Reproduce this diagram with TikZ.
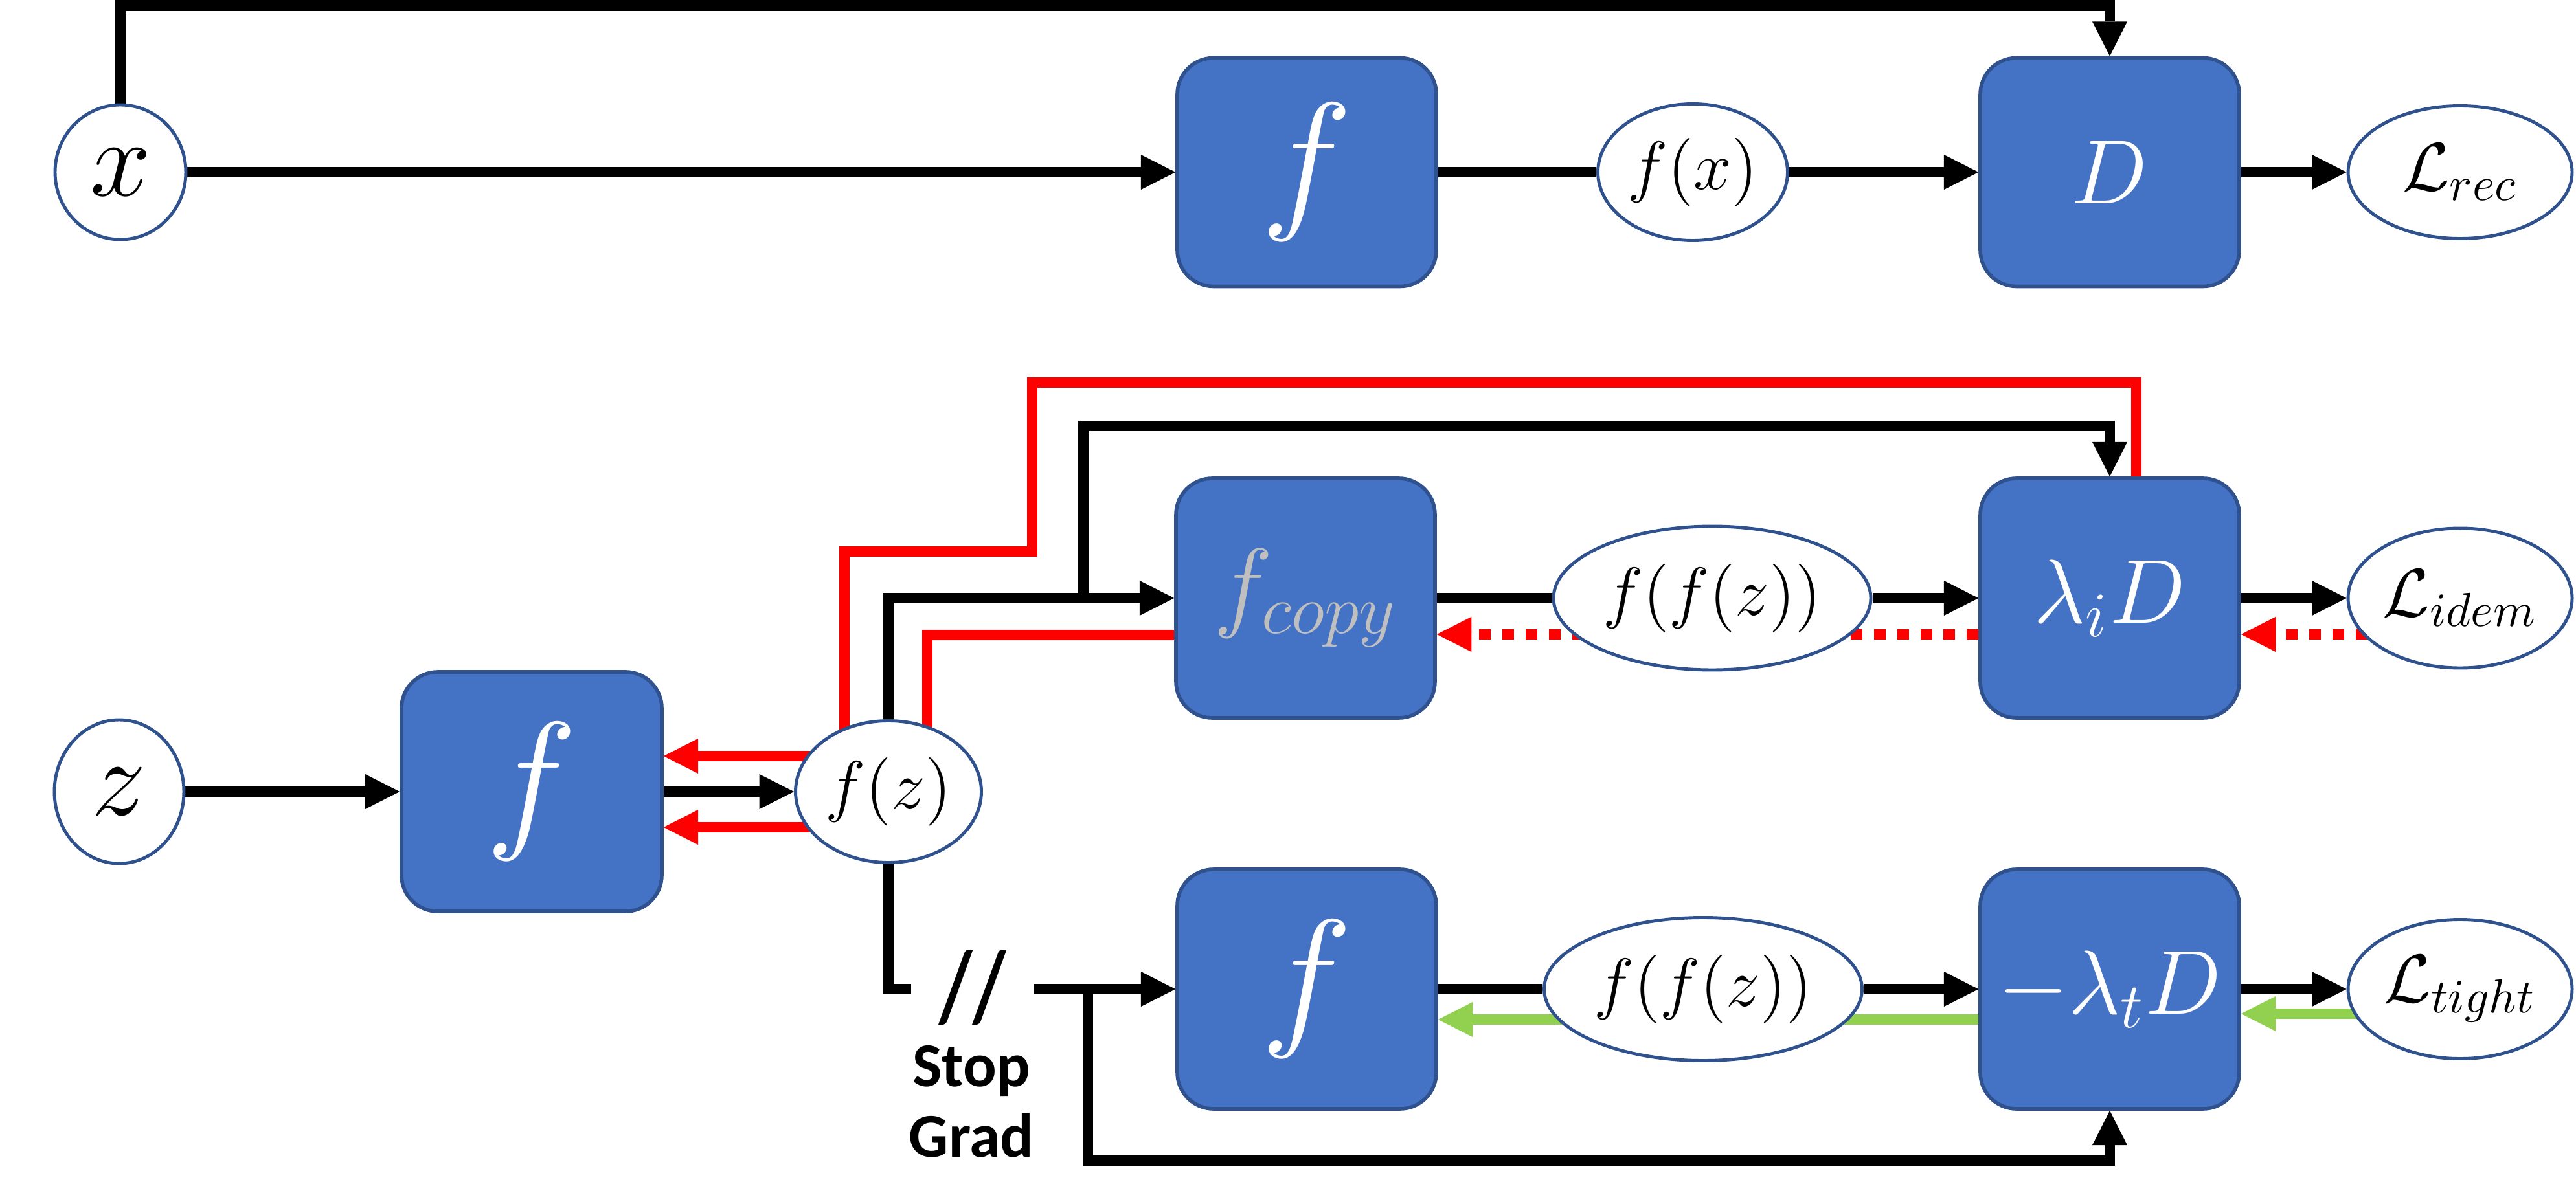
\RequirePackage{fix-cm}
\documentclass[tikz,border=0pt]{standalone}
\usepackage{amsmath}
\usepackage{amssymb}
\usepackage{fontspec}
\newfontfamily\carlito{Carlito}
\usepackage{tikz}
\usetikzlibrary{positioning,shapes.geometric,arrows.meta,backgrounds}
\definecolor{boxblue}{RGB}{68,114,196}
\definecolor{edgeblue}{RGB}{47,82,143}
\definecolor{gradred}{RGB}{255,0,0}
\definecolor{gradgreen}{RGB}{146,208,80}
\definecolor{copygray}{RGB}{191,191,191}
\tikzstyle{blk}=[draw=edgeblue, fill=boxblue, rounded corners=0.28cm, minimum width=2cm, minimum height=1.85cm, line width=0.8pt, text=white, font=\fontsize{20pt}{24pt}\selectfont]
\tikzstyle{blk1}=[blk, minimum height=1.765cm]
\tikzstyle{fbig}=[font=\fontsize{34pt}{40pt}\selectfont]
\tikzstyle{var}=[ellipse, draw=edgeblue, fill=white, line width=0.7pt, inner sep=0pt, minimum width=1.73cm, minimum height=1.08cm, font=\fontsize{15pt}{18pt}\selectfont]
\tikzstyle{inp}=[var, minimum width=1.01cm, font=\fontsize{24pt}{28pt}\selectfont]
\tikzstyle{ln}=[line width=2.4pt]
\tikzstyle{rd}=[ln, draw=gradred]
\tikzstyle{rddash}=[rd, dash pattern=on 2.55pt off 2.55pt]
\tikzstyle{gr}=[ln, draw=gradgreen]

\begin{document}
\begin{tikzpicture}[node distance=2cm,auto,>={Triangle[length=7.6pt,width=7.7pt,line width=0pt]}]
\useasboundingbox (0,0) rectangle (19.89,-9.3);

% top row: reconstruction
\node[inp, minimum height=1.04cm] at (0.93,-1.33) (xin) {$x$};
\node[blk1, fbig, right of = xin, node distance = 9.16cm] (f1) {$f$};
\node[var, right of = f1, node distance = 2.98cm, minimum width=1.465cm, minimum height=1.055cm] (fx) {$f(x)$};
\node[blk1, right of = fx, node distance = 3.22cm] (D) {$D$};
\node[var, right of = D, node distance = 2.705cm, minimum height=1.025cm] (Lrec) {$\mathcal{L}_{rec}$};

% middle: z through f
\node[inp, minimum width=1cm, minimum height=1.11cm] at (0.92,-6.115) (z) {$z$};
\node[blk, fbig, right of = z, node distance = 3.185cm, minimum width=2.01cm] (fL) {$f$};
\node[var, right of = fL, node distance = 2.755cm, minimum width=1.435cm, minimum height=1.095cm] (fz) {$f(z)$};

% idempotence row
\node[blk, text=copygray, font=\fontsize{22pt}{26pt}\selectfont] at (10.08,-4.62) (fcopy) {$f_{copy}$};
\node[var, right of = fcopy, node distance = 3.14cm, minimum width=2.45cm, minimum height=1.11cm] (ffz2) {$f(f(z))$};
\node[blk, right of = ffz2, node distance = 3.07cm] (lamiD) {$\lambda_i D$};
\node[var, right of = lamiD, node distance = 2.705cm] (Lidem) {$\mathcal{L}_{idem}$};

% tightness row
\node[blk, fbig] at (10.09,-7.64) (f3) {$f$};
\node[var, right of = f3, node distance = 3.06cm, minimum width=2.455cm, minimum height=1.105cm] (ffz3) {$f(f(z))$};
\node[blk, right of = ffz3, node distance = 3.14cm] (lamtD) {$-\lambda_t D$};
\node[var, right of = lamtD, node distance = 2.705cm, minimum height=1.075cm] (Ltight) {$\mathcal{L}_{tight}$};

\node[font=\carlito\bfseries\fontsize{17pt}{20pt}\selectfont, inner xsep=6pt, inner ysep=0pt] at (7.51,-7.63) (slash) {\scalebox{1}[1.3]{//}};
\node[font=\carlito\bfseries\fontsize{13.7pt}{15.5pt}\selectfont, align=center, inner sep=0pt] at (7.5,-8.51) (sgtext) {Stop\\Grad};

\coordinate (br1) at (8.365,-4.62);
\coordinate (br3) at (8.40,-7.64);

\begin{pgfonlayer}{background}
\draw[ln,->] (xin.north) -- ++(0,0.755) -| (D.north);
\draw[ln,->] (xin) -- (f1);
\draw[ln] (f1) -- (fx);
\draw[ln,->] (fx) -- (D);
\draw[ln,->] (D) -- (Lrec);

\draw[ln,->] (z) -- (fL);
\draw[ln,->] (fL) -- (fz);

\draw[ln,->] (fz.north) |- (fcopy.west);
\draw[ln,->] (br1) -- ++(0,1.33) -| (lamiD.north);
\draw[ln] (fcopy) -- (ffz2);
\draw[ln,->] (ffz2) -- (lamiD);
\draw[ln,->] (lamiD) -- (Lidem);

% gradients back to f
\draw[rd,->] ([xshift=0.205cm]lamiD.north) |- (7.97,-2.955) |- (6.52,-4.26) |- ([yshift=0.275cm]fL.east);
\draw[rd,->] ([yshift=-0.285cm]fcopy.west) -| (7.16,-6.39) -- ([yshift=-0.275cm]fL.east);
\draw[rddash,->] ([yshift=-0.28cm]Lidem.center) -- ([yshift=-0.28cm]lamiD.east);
\draw[rddash,->] ([yshift=-0.28cm]lamiD.west) -- ([yshift=-0.28cm]fcopy.east);

\draw[ln] (fz.south) |- (slash.west |- f3.west);
\draw[ln,->] (slash.east |- f3.west) -- (f3.west);
\draw[ln,->] (br3) -- ++(0,-1.325) -| (lamtD.south);
\draw[ln] (f3) -- (ffz3);
\draw[ln,->] (ffz3) -- (lamtD);
\draw[ln,->] (lamtD) -- (Ltight);

\draw[gr,->] ([yshift=-0.19cm]Ltight.center) -- ([yshift=-0.19cm]lamtD.east);
\draw[gr,->] ([yshift=-0.235cm]lamtD.west) -- ([yshift=-0.235cm]f3.east);
\end{pgfonlayer}
\end{tikzpicture}
\end{document}
